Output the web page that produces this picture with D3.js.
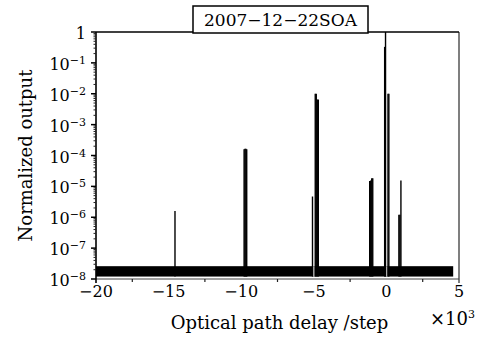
<!DOCTYPE html>
<html>
<head>
<meta charset="utf-8">
<script src="https://cdn.jsdelivr.net/npm/d3@7"></script>
<style>
  body { margin: 0; background: #fff; }
</style>
</head>
<body>
<div id="chart"></div>
<script>
"use strict";

// chart values (delay in units of 10^3 steps)
var title = "2007\u221212\u221222SOA";
var xTicks = [-20, -15, -10, -5, 0, 5];
var xMinorTicks = [-17.5, -12.5, -7.5, -2.5, 2.5];
var yTickExp = [0, -1, -2, -3, -4, -5, -6, -7, -8];

// sampled peaks of the normalized output
var peakX = [-14.56, -9.80, -9.74, -9.68, -9.62, -5.09, -4.90, -4.83, -4.76, -4.69,
             -1.15, -1.08, -1.01, -0.94, -0.12, -0.06, 0.11, 0.17, 0.86, 0.93, 1.00];
var peakY = [1.6e-6, 1.6e-4, 1.65e-4, 1.65e-4, 1.6e-4, 4.7e-6, 1.0e-2, 1.0e-2, 6.5e-3, 6.5e-3,
             1.5e-5, 1.55e-5, 1.85e-5, 1.85e-5, 0.33, 1.0, 1.0e-2, 1.0e-2, 1.2e-6, 1.2e-6, 1.55e-5];

// noise floor band and dropouts (zero samples) in it
var noiseStart = -20, noiseEnd = 4.6;
var noiseLo = 1.2e-8, noiseHi = 2.6e-8;
var dropX = [-4.99, 0.03];

var serif = "'DejaVu Serif', serif";

function drawChart()
{
    var w = 488, h = 338;
    var margin = {top: 32, right: 29, bottom: 59, left: 96};

    var svg = d3.select("#chart")
        .append("svg")
        .attr("width", w)
        .attr("height", h)
        .style("font-family", serif);

    var x = d3.scaleLinear()
        .domain([-20, 5])
        .range([margin.left, w - margin.right]);

    var y = d3.scaleLog()
        .domain([1e-8, 1])
        .range([h - margin.bottom, margin.top]);

    //noise floor
    svg.append("rect")
        .attr("x", x(noiseStart))
        .attr("y", y(noiseHi))
        .attr("width", x(noiseEnd) - x(noiseStart))
        .attr("height", y(noiseLo) - y(noiseHi))
        .attr("fill", "#000");

    //dropouts cut white lines through the floor
    svg.selectAll("line.drop")
        .data(dropX)
        .enter()
        .append("line")
        .attr("class", "drop")
        .attr("x1", function(d) { return x(d); })
        .attr("x2", function(d) { return x(d); })
        .attr("y1", y(noiseLo))
        .attr("y2", y(noiseHi))
        .attr("stroke", "#fff")
        .attr("stroke-width", 1.4);

    //peaks
    svg.selectAll("line.peak")
        .data(peakX)
        .enter()
        .append("line")
        .attr("class", "peak")
        .attr("x1", function(d) { return x(d); })
        .attr("x2", function(d) { return x(d); })
        .attr("y1", y(noiseLo))
        .attr("y2", function(d, i) { return y(peakY[i]); })
        .attr("stroke", "#000")
        .attr("stroke-width", 1.4);

    var x0 = x(-20), x1 = x(5), y0 = y(1e-8), y1 = y(1);

    //frame
    svg.append("line")
        .attr("x1", x1).attr("x2", x1).attr("y1", y1).attr("y2", y0 + 4)
        .attr("stroke", "#555").attr("stroke-width", 1.5);
    svg.append("line")
        .attr("x1", x0).attr("x2", x1).attr("y1", y0).attr("y2", y0)
        .attr("stroke", "#444").attr("stroke-width", 1.2);
    svg.append("line")
        .attr("x1", x0).attr("x2", x1).attr("y1", y1).attr("y2", y1)
        .attr("stroke", "#000").attr("stroke-width", 1.5);
    svg.append("line")
        .attr("x1", x0).attr("x2", x0).attr("y1", y1).attr("y2", y0 + 4)
        .attr("stroke", "#000").attr("stroke-width", 1.6);

    //x ticks
    svg.selectAll("line.xminor")
        .data(xMinorTicks)
        .enter()
        .append("line")
        .attr("x1", function(d) { return x(d); })
        .attr("x2", function(d) { return x(d); })
        .attr("y1", y0)
        .attr("y2", y0 + 3)
        .attr("stroke", "#222")
        .attr("stroke-width", 1.2);

    svg.selectAll("text.xlab")
        .data(xTicks)
        .enter()
        .append("text")
        .attr("x", function(d) { return x(d); })
        .attr("y", y0 + 18)
        .style("text-anchor", "middle")
        .style("font-size", "16px")
        .text(function(d) { return d < 0 ? "\u2212" + Math.abs(d) : d; });

    //y ticks, major and minor
    var minor = [];
    yTickExp.forEach(function(e) {
        if (e < 0) {
            for (var k = 2; k < 10; k++) minor.push(k * Math.pow(10, e));
        }
    });
    svg.selectAll("line.yminor")
        .data(minor)
        .enter()
        .append("line")
        .attr("x1", x0 - 2.5)
        .attr("x2", x0)
        .attr("y1", function(d) { return y(d); })
        .attr("y2", function(d) { return y(d); })
        .attr("stroke", "#222")
        .attr("stroke-width", 1);

    svg.selectAll("line.ymajor")
        .data(yTickExp)
        .enter()
        .append("line")
        .attr("x1", x0 - 5)
        .attr("x2", x0)
        .attr("y1", function(d) { return y(Math.pow(10, d)); })
        .attr("y2", function(d) { return y(Math.pow(10, d)); })
        .attr("stroke", "#000")
        .attr("stroke-width", 1.5);

    var ylab = svg.selectAll("text.ylab")
        .data(yTickExp)
        .enter()
        .append("text")
        .attr("x", x0 - 10)
        .attr("y", function(d) { return y(Math.pow(10, d)) + 7; })
        .style("text-anchor", "end")
        .style("font-size", "16px");
    ylab.each(function(d) {
        var t = d3.select(this);
        if (d === 0) {
            t.append("tspan").text("1");
        } else {
            t.append("tspan").text("10");
            t.append("tspan")
                .attr("dy", -6)
                .style("font-size", "11px")
                .text("\u2212" + Math.abs(d));
        }
    });

    //axis titles
    svg.append("text")
        .attr("x", (x0 + x1) / 2 + 2)
        .attr("y", 329)
        .style("text-anchor", "middle")
        .style("font-size", "18px")
        .text("Optical path delay /step");

    var mult = svg.append("text")
        .attr("x", 430)
        .attr("y", 325)
        .style("font-size", "18px");
    mult.append("tspan").text("\u00d710");
    mult.append("tspan").attr("dy", -7).style("font-size", "11px").text("3");

    svg.append("text")
        .attr("transform", "translate(32," + ((y0 + y1) / 2) + ") rotate(-90)")
        .style("text-anchor", "middle")
        .style("font-size", "18px")
        .text("Normalized output");

    //title box
    svg.append("rect")
        .attr("x", 193)
        .attr("y", 6)
        .attr("width", 175)
        .attr("height", 27)
        .attr("fill", "#fff")
        .attr("stroke", "#000")
        .attr("stroke-width", 1.5);
    svg.append("text")
        .attr("x", 280.5)
        .attr("y", 26)
        .style("text-anchor", "middle")
        .style("font-size", "17px")
        .text(title);
}

window.addEventListener('load', function (){
    drawChart();
});
</script>
</body>
</html>
